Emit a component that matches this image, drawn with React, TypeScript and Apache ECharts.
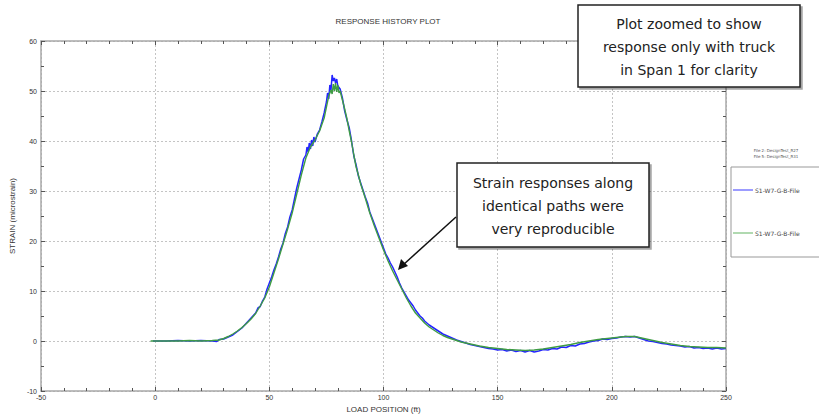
import React, { useEffect, useRef } from "react";
import * as echarts from "echarts";

const title = "RESPONSE HISTORY PLOT";
const xName = "LOAD POSITION (ft)";
const yName = "STRAIN (microstrain)";
const seriesNames = ["S1-W7-G-B-File", "S1-W7-G-B-File"];
const fileNotes = ["File 2: DesignTest_R27", "File 5: DesignTest_R31"];
const noteTop = ["Plot zoomed to show", "response only with truck", "in Span 1 for clarity"];
const noteMid = ["Strain responses along", "identical paths were", "very reproducible"];

const blue: number[][] = [
  [-1, 0], [5, 0], [10, 0.1], [15, 0], [20, 0.1], [25, 0], [27, -0.1], [28, 0.3], [30, 0.4], [32, 0.8],
  [34, 1.2], [36, 1.9], [38, 2.6], [40, 3.6], [42, 4.6], [44, 5.6], [45, 6.6], [46, 6.9], [47, 8.0], [48, 8.8],
  [49, 10.4], [50, 11.6], [51, 12.8], [52, 14.2], [53, 15.4], [54, 16.8], [55, 18.4], [56, 19.6], [57, 21.5],
  [58, 22.8], [59, 24.8], [60, 26.2], [61, 28.4], [62, 30.6], [63, 32.4], [64, 34.2], [65, 36.4], [66, 37.2],
  [66.5, 38.8], [67, 37.8], [67.5, 39.6], [68, 38.4], [68.5, 40.2], [69, 39.0], [69.5, 40.8], [70, 39.8],
  [71, 41.4], [72, 42.2], [73, 43.8], [74, 45.6], [75, 47.8], [75.5, 49.6], [76, 48.4], [76.5, 51.2], [77, 50.2],
  [77.5, 53.2], [78, 52.0], [78.5, 52.6], [79, 51.6], [79.5, 52.4], [80, 51.0], [81, 50.4], [82, 48.6], [83, 46.0],
  [84, 44.2], [85, 42.6], [86, 40.0], [87, 37.0], [88, 35.2], [89, 33.0], [90, 31.6], [91, 30.2], [92, 28.8],
  [93, 27.6], [94, 25.8], [95, 24.6], [96, 23.4], [97, 22.2], [98, 21.0], [99, 19.8], [100, 18.6], [101, 17.4],
  [102, 16.6], [103, 15.6], [104, 14.8], [105, 13.8], [106, 12.8], [107, 11.6], [108, 10.6], [109, 9.8],
  [110, 9.0], [111, 8.2], [112, 7.6], [113, 7.0], [114, 6.2], [115, 5.6], [116, 5.0], [117, 4.6], [118, 4.0],
  [119, 3.6], [120, 3.2], [122, 2.6], [124, 2.0], [126, 1.4], [128, 1.0], [130, 0.6], [132, 0.2], [134, -0.1],
  [136, -0.4], [138, -0.7], [140, -0.9], [142, -1.1], [144, -1.3], [146, -1.5], [148, -1.6], [150, -1.8],
  [152, -1.7], [154, -2.0], [156, -1.8], [158, -2.1], [160, -1.9], [162, -2.2], [164, -1.9], [166, -2.2],
  [168, -2.0], [170, -1.7], [172, -1.8], [174, -1.5], [176, -1.6], [178, -1.2], [180, -1.3], [182, -0.9],
  [184, -1.0], [186, -0.6], [188, -0.5], [190, -0.2], [192, 0.0], [194, 0.1], [196, 0.4], [198, 0.3], [200, 0.5],
  [202, 0.6], [204, 0.8], [206, 0.9], [208, 0.8], [210, 0.9], [212, 0.6], [214, 0.3], [216, 0.0], [218, -0.1],
  [220, -0.3], [222, -0.5], [224, -0.6], [226, -0.8], [228, -0.9], [230, -1.0], [232, -1.2], [234, -1.1],
  [236, -1.4], [238, -1.3], [240, -1.5], [242, -1.4], [244, -1.6], [246, -1.4], [248, -1.6], [250, -1.5],
];

const green: number[][] = [
  [-2, 0], [5, 0], [10, 0], [15, 0.1], [20, 0], [25, 0.1], [28, 0.2], [30, 0.5], [32, 0.9], [34, 1.4], [36, 2.0],
  [38, 2.7], [40, 3.5], [42, 4.4], [44, 5.5], [46, 7.0], [48, 8.6], [50, 10.8], [52, 13.6], [54, 16.4], [56, 19.4],
  [58, 22.4], [60, 25.6], [62, 29.4], [64, 33.2], [66, 36.6], [68, 38.8], [70, 40.2], [72, 42.0], [74, 44.6],
  [75, 46.8], [76, 49.0], [77, 50.2], [77.5, 49.4], [78, 51.4], [78.5, 50.0], [79, 51.6], [79.5, 49.8], [80, 51.2],
  [80.5, 49.6], [81, 50.0], [82, 48.2], [83, 46.4], [84, 44.4], [85, 42.0], [86, 39.8], [87, 37.2], [88, 34.8],
  [89, 33.2], [90, 31.4], [92, 28.6], [94, 25.6], [96, 23.0], [98, 20.6], [100, 18.2], [102, 16.0], [104, 14.0],
  [106, 12.2], [108, 10.4], [110, 8.6], [112, 7.0], [114, 5.6], [116, 4.6], [118, 3.6], [120, 2.8], [122, 2.2],
  [124, 1.6], [126, 1.1], [128, 0.7], [130, 0.4], [134, -0.2], [138, -0.6], [142, -1.0], [146, -1.3], [150, -1.5],
  [154, -1.7], [158, -1.8], [162, -1.9], [166, -1.8], [170, -1.6], [174, -1.3], [178, -1.0], [182, -0.7],
  [186, -0.3], [190, 0.0], [194, 0.3], [198, 0.5], [202, 0.7], [206, 0.9], [210, 0.9], [214, 0.5], [218, 0.1],
  [222, -0.3], [226, -0.6], [230, -0.9], [234, -1.1], [238, -1.2], [242, -1.3], [246, -1.3], [250, -1.4],
];

const BLUE = "#2424ff";
const GREEN = "#3f9c45";
const AX = "#a8a8a8";
const FONT = "DejaVu Sans";
const LBL = "Arial, 'Liberation Sans'";

export default function App() {
  const ref = useRef<HTMLDivElement>(null);
  useEffect(() => {
    if (!ref.current) return;
    const chart = echarts.init(ref.current, undefined, { renderer: "svg" });
    const xBase = {
      type: "value" as const,
      min: -50,
      max: 250,
      interval: 50,
      axisLine: { show: true, onZero: false, lineStyle: { color: AX, width: 1.5 } },
      axisTick: { show: true, inside: true, length: 4, lineStyle: { color: "#555" } },
      minorTick: { show: true, splitNumber: 5, length: 3, lineStyle: { color: "#555" } },
    };
    const yBase = {
      type: "value" as const,
      min: -10,
      max: 60,
      interval: 10,
      axisLine: { show: true, onZero: false, lineStyle: { color: AX, width: 1.5 } },
      axisTick: { show: true, inside: true, length: 4, lineStyle: { color: "#555" } },
      minorTick: { show: true, splitNumber: 2, length: 3, lineStyle: { color: "#555" } },
    };
    const boxText = (lines: string[], cx: number, y0: number, lh: number) =>
      lines.map((t, i) => ({
        type: "text",
        x: cx,
        y: y0 + i * lh,
        style: { text: t, font: `14px '${FONT}'`, fill: "#222", align: "center", verticalAlign: "middle" },
        z: 101,
      }));
    chart.setOption({
      animation: false,
      backgroundColor: "#fff",
      title: {
        text: title,
        left: 383,
        top: 12,
        textAlign: "center",
        textStyle: { fontSize: 8, fontWeight: "normal", color: "#333", fontFamily: LBL },
      },
      grid: { left: 40, right: 93, top: 41, bottom: 28, show: false },
      xAxis: [
        {
          ...xBase,
          position: "bottom",
          name: xName,
          nameLocation: "middle",
          nameGap: 12,
          nameTextStyle: { fontSize: 8, color: "#333", fontFamily: LBL },
          axisLabel: { fontSize: 7, color: "#333", margin: 3, fontFamily: LBL },
          splitLine: { show: true, lineStyle: { color: "#c4c4c4", type: [2, 2], width: 1 } },
        },
        { ...xBase, position: "top", axisLabel: { show: false }, splitLine: { show: false } },
      ],
      yAxis: [
        {
          ...yBase,
          position: "left",
          name: yName,
          nameLocation: "middle",
          nameGap: 18,
          nameTextStyle: { fontSize: 8, color: "#333", fontFamily: LBL },
          axisLabel: { fontSize: 7, color: "#333", margin: 4, fontFamily: LBL },
          splitLine: { show: true, lineStyle: { color: "#c4c4c4", type: [2, 2], width: 1 } },
        },
        { ...yBase, position: "right", axisLabel: { show: false }, splitLine: { show: false } },
      ],
      series: [
        {
          name: seriesNames[0],
          type: "line",
          data: blue,
          showSymbol: false,
          lineStyle: { color: BLUE, width: 1.5 },
          itemStyle: { color: BLUE },
          z: 3,
        },
        {
          name: seriesNames[1],
          type: "line",
          data: green,
          showSymbol: false,
          lineStyle: { color: GREEN, width: 1.4 },
          itemStyle: { color: GREEN },
          z: 4,
        },
      ],
      graphic: [
        {
          type: "rect",
          shape: { x: 578, y: 5, width: 222, height: 82 },
          style: { fill: "#fff", stroke: "#222", lineWidth: 1.5, shadowColor: "rgba(0,0,0,0.35)", shadowOffsetX: 2, shadowOffsetY: 2, shadowBlur: 1 },
          z: 100,
        },
        ...boxText(noteTop, 689, 24, 23),
        {
          type: "rect",
          shape: { x: 457, y: 163, width: 192, height: 84 },
          style: { fill: "#fff", stroke: "#222", lineWidth: 1.5, shadowColor: "rgba(0,0,0,0.35)", shadowOffsetX: 2, shadowOffsetY: 2, shadowBlur: 1 },
          z: 100,
        },
        ...boxText(noteMid, 553, 183, 23),
        {
          type: "line",
          shape: { x1: 456, y1: 217, x2: 403, y2: 265 },
          style: { stroke: "#111", lineWidth: 1.5 },
          z: 100,
        },
        {
          type: "polygon",
          shape: { points: [[398, 270], [401, 259], [408, 266]] },
          style: { fill: "#111" },
          z: 100,
        },
        {
          type: "rect",
          shape: { x: 731, y: 167, width: 95, height: 90 },
          style: { fill: "#fff", stroke: "#999", lineWidth: 1 },
          z: 100,
        },
        ...fileNotes.map((t, i) => ({
          type: "text",
          x: 776,
          y: 150 + i * 6,
          style: { text: t, font: `4px '${FONT}'`, fill: "#555", align: "center", verticalAlign: "middle" },
          z: 101,
        })),
        { type: "line", shape: { x1: 733, y1: 190, x2: 753, y2: 190 }, style: { stroke: "#5a5aff", lineWidth: 1.2 }, z: 101 },
        { type: "line", shape: { x1: 733, y1: 233, x2: 753, y2: 233 }, style: { stroke: "#7cc07c", lineWidth: 1.2 }, z: 101 },
        ...seriesNames.map((t, i) => ({
          type: "text",
          x: 755,
          y: 190 + i * 43,
          style: { text: t, font: `6px '${FONT}'`, fill: "#444", align: "left", verticalAlign: "middle" },
          z: 101,
        })),
      ],
    });
    return () => chart.dispose();
  }, []);
  return <div ref={ref} style={{ width: 819, height: 419, position: "absolute", left: 0, top: 0 }} />;
}
